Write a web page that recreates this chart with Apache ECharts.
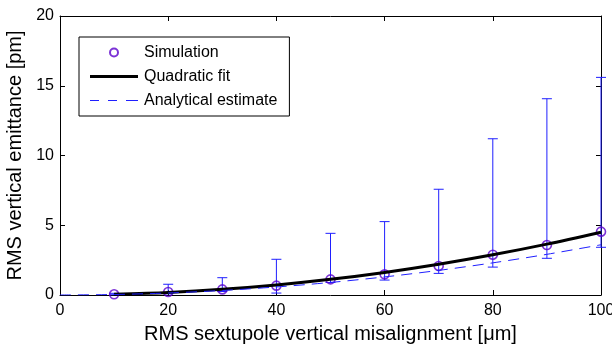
<!DOCTYPE html>
<html>
<head>
<meta charset="utf-8">
<script src="https://cdn.jsdelivr.net/npm/echarts@6/dist/echarts.min.js"></script>
<style>
  html, body { margin: 0; padding: 0; background: #fff; }
  #chart { width: 612px; height: 344px; }
</style>
</head>
<body>
<div id="chart"></div>
<script>
// misalignment [um]
const simX = [10, 20, 30, 40, 50, 60, 70, 80, 90, 100]
// emittance [pm]: mean, lower and upper error bar ends
const simMean = [0.05, 0.22, 0.4, 0.67, 1.12, 1.48, 2.08, 2.89, 3.58, 4.54]
const simLow = [0.02, 0.08, 0.25, 0.14, 0.9, 1.07, 1.55, 2.0, 2.63, 3.42]
const simHigh = [0.12, 0.77, 1.24, 2.56, 4.42, 5.26, 7.58, 11.2, 14.07, 15.6]

const fitX = [10, 20, 30, 40, 50, 60, 70, 80, 90, 100]
const fitY = [0.045, 0.18, 0.405, 0.72, 1.125, 1.62, 2.205, 2.88, 3.645, 4.5]

const anaX = [0, 10, 20, 30, 40, 50, 60, 70, 80, 90, 100]
const anaY = [0, 0.036, 0.144, 0.324, 0.576, 0.9, 1.296, 1.764, 2.304, 2.916, 3.6]

const FONT = "Liberation Sans, Arial, sans-serif"
const BLUE = "#1f1fff"
const PURPLE = "#5b00cc"

const chart = echarts.init(document.getElementById("chart"), null, { renderer: "canvas" })

const errData = simX.map((x, i) => [x, simLow[i], simHigh[i]])

// draws a vertical bar with caps at both ends
function renderErrorBar(params, api) {
  const x = api.value(0)
  const lo = api.coord([x, api.value(1)])
  const hi = api.coord([x, api.value(2)])
  const half = 5
  const style = { stroke: BLUE, lineWidth: 1 }
  return {
    type: "group",
    children: [
      { type: "line", shape: { x1: lo[0], y1: lo[1], x2: hi[0], y2: hi[1] }, style },
      { type: "line", shape: { x1: hi[0] - half, y1: hi[1], x2: hi[0] + half, y2: hi[1] }, style },
      { type: "line", shape: { x1: lo[0] - half, y1: lo[1], x2: lo[0] + half, y2: lo[1] }, style },
    ],
  }
}

const axisLine = { show: true, onZero: false, lineStyle: { color: "#000", width: 1 } }
const tickIn = { show: true, inside: true, length: 5, lineStyle: { color: "#000" } }

const option = {
  animation: false,
  backgroundColor: "#fff",
  grid: { left: 60, right: 11, top: 16, bottom: 49, outerBoundsMode: "none", containLabel: false },
  legend: {
    orient: "vertical",
    left: 79,
    top: 37,
    padding: [7, 12, 7, 11],
    itemWidth: 48,
    itemHeight: 8,
    itemGap: 7,
    borderColor: "#000",
    borderWidth: 1,
    backgroundColor: "#fff",
    textStyle: { fontFamily: FONT, fontSize: 16, color: "#000", lineHeight: 17, padding: [0, 0, 0, 1] },
    data: [
      { name: "Simulation" },
      { name: "Quadratic fit", icon: "path://M0,0 L48,0 L48,3 L0,3 Z", itemStyle: { color: "#000" } },
      {
        name: "Analytical estimate",
        icon: "path://M0,0 L9,0 L9,1 L0,1 Z M18,0 L27,0 L27,1 L18,1 Z M36,0 L48,0 L48,1 L36,1 Z",
        itemStyle: { color: BLUE },
      },
    ],
  },
  xAxis: [
    {
      type: "value",
      min: 0,
      max: 100,
      interval: 20,
      position: "bottom",
      name: "RMS sextupole vertical misalignment [\u03bcm]",
      nameLocation: "middle",
      nameGap: 29,
      nameTextStyle: { fontFamily: FONT, fontSize: 20, color: "#000" },
      axisLine,
      axisTick: tickIn,
      axisLabel: { fontFamily: FONT, fontSize: 16, color: "#000", margin: 8 },
      splitLine: { show: false },
    },
    {
      type: "value",
      min: 0,
      max: 100,
      interval: 20,
      position: "top",
      axisLine,
      axisTick: tickIn,
      axisLabel: { show: false },
      splitLine: { show: false },
    },
  ],
  yAxis: [
    {
      type: "value",
      min: 0,
      max: 20,
      interval: 5,
      position: "left",
      name: "RMS vertical emittance [pm]",
      nameLocation: "middle",
      nameGap: 31,
      nameTextStyle: { fontFamily: FONT, fontSize: 20, color: "#000" },
      axisLine,
      axisTick: tickIn,
      axisLabel: { fontFamily: FONT, fontSize: 16, color: "#000", margin: 6 },
      splitLine: { show: false },
    },
    {
      type: "value",
      min: 0,
      max: 20,
      interval: 5,
      position: "right",
      axisLine,
      axisTick: tickIn,
      axisLabel: { show: false },
      splitLine: { show: false },
    },
  ],
  series: [
    {
      name: "errors",
      type: "custom",
      renderItem: renderErrorBar,
      data: errData,
      encode: { x: 0, y: [1, 2] },
      z: 2,
    },
    {
      name: "Simulation",
      type: "scatter",
      data: simX.map((x, i) => [x, simMean[i]]),
      symbol: "circle",
      symbolSize: 9,
      itemStyle: { color: "rgba(0,0,0,0)", borderColor: PURPLE, borderWidth: 1.6 },
      z: 3,
    },
    {
      name: "Quadratic fit",
      type: "line",
      data: fitX.map((x, i) => [x, fitY[i]]),
      smooth: 0.3,
      symbol: "none",
      lineStyle: { color: "#000", width: 3 },
      z: 4,
    },
    {
      name: "Analytical estimate",
      type: "line",
      data: anaX.map((x, i) => [x, anaY[i]]),
      smooth: 0.3,
      symbol: "none",
      lineStyle: { color: BLUE, width: 1, type: [11, 7] },
      z: 5,
    },
  ],
}

chart.setOption(option)
</script>
</body>
</html>
